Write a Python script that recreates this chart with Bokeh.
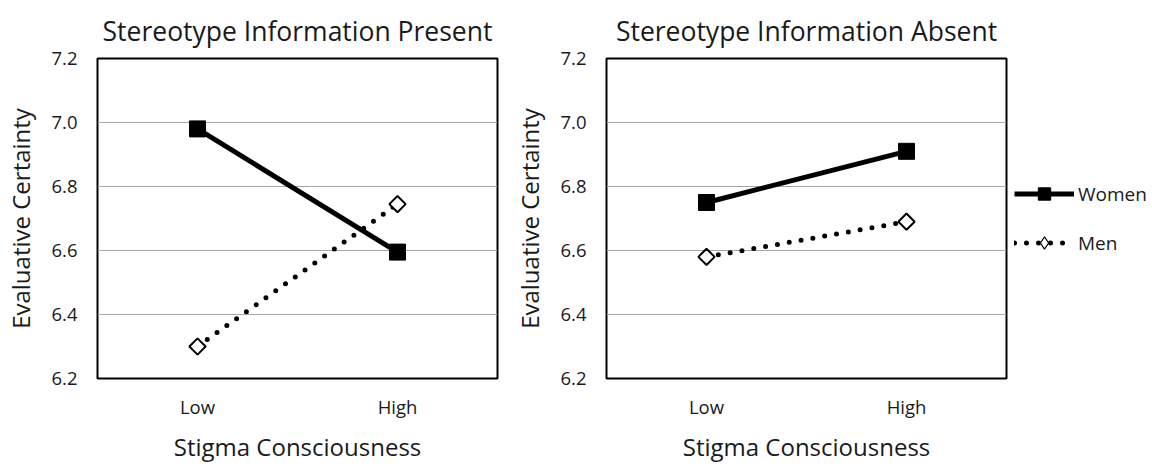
import numpy as np
from bokeh.plotting import figure
from bokeh.layouts import row
from bokeh.models import FixedTicker, NumeralTickFormatter, Legend, LegendItem
from bokeh.embed import file_html
from bokeh.resources import INLINE

levels = ["Low", "High"]
present_women = [6.98, 6.595]
present_men = [6.30, 6.745]
absent_women = [6.75, 6.91]
absent_men = [6.58, 6.69]
y_ticks = [6.2, 6.4, 6.6, 6.8, 7.0, 7.2]
titles = ["Stereotype Information Present", "Stereotype Information Absent"]
x_label = "Stigma Consciousness"
y_label = "Evaluative Certainty"
series_names = ["Women", "Men"]

FONT = "Open Sans"
TXT = "#1a1a1a"


def make_panel(title, women, men, width, left, right):
    p = figure(x_range=levels, y_range=(6.2, 7.2), width=width, height=470,
               frame_width=400, frame_height=320,
               min_border_left=left, min_border_right=right,
               min_border_top=58, min_border_bottom=92,
               output_backend="svg", toolbar_location=None, title=title)
    p.title.text_font = FONT
    p.title.text_font_size = "26.5px"
    p.title.text_font_style = "normal"
    p.title.text_color = TXT
    p.title.align = "center"
    p.title.standoff = 20
    p.outline_line_color = "black"
    p.outline_line_width = 2
    p.outline_line_alpha = 1
    p.background_fill_color = "white"
    p.border_fill_color = "white"
    p.xgrid.grid_line_color = None
    p.ygrid.grid_line_color = "#a6a6a6"
    p.ygrid.grid_line_width = 1
    p.yaxis.ticker = FixedTicker(ticks=y_ticks)
    p.yaxis.formatter = NumeralTickFormatter(format="0.0")
    for ax in (p.xaxis[0], p.yaxis[0]):
        ax.axis_line_color = None
        ax.major_tick_line_color = None
        ax.minor_tick_line_color = None
        ax.major_tick_out = 0
        ax.major_tick_in = 0
        ax.minor_tick_out = 0
        ax.major_label_text_font = FONT
        ax.major_label_text_font_size = "18.5px"
        ax.major_label_text_color = TXT
        ax.axis_label_text_font = FONT
        ax.axis_label_text_font_size = "24px"
        ax.axis_label_text_font_style = "normal"
        ax.axis_label_text_color = TXT
    p.yaxis.major_label_standoff = 20
    p.yaxis.axis_label_standoff = 11
    p.xaxis.major_label_standoff = 15
    p.xaxis.axis_label_standoff = 8
    p.xaxis.axis_label = x_label
    p.yaxis.axis_label = y_label

    lw = p.line(levels, women, line_color="black", line_width=5)
    lm = p.line(levels, men, line_color="black", line_width=5,
                line_dash="0 12", line_cap="round")
    # diamond key for the legend (zero size in the plot itself)
    key = p.scatter(levels, men, marker="diamond", size=0,
                    fill_color="white", line_color="black", line_width=1.2)
    sw = p.scatter(levels, women, marker="square", size=16,
                   fill_color="black", line_color="black")
    sm = p.scatter(levels, men, marker="square", size=11.5, angle=np.pi / 4,
                   fill_color="white", line_color="black", line_width=2)
    return p, (lw, sw), (lm, key)


p1, _, _ = make_panel(titles[0], present_women, present_men, 509, 97, 12)
p2, rw, rm = make_panel(titles[1], absent_women, absent_men, 641, 97, 144)

legend = Legend(items=[LegendItem(label=series_names[0], renderers=list(rw)),
                       LegendItem(label=series_names[1], renderers=list(rm))],
                location="center_left", margin=8, padding=8,
                glyph_width=60, glyph_height=31, spacing=18,
                label_standoff=4, label_text_font=FONT,
                label_text_font_size="19px", label_text_color=TXT,
                border_line_color=None, background_fill_alpha=0)
p2.add_layout(legend, "right")

layout = row(p1, p2)
open("out.html", "w").write(file_html(layout, INLINE))
